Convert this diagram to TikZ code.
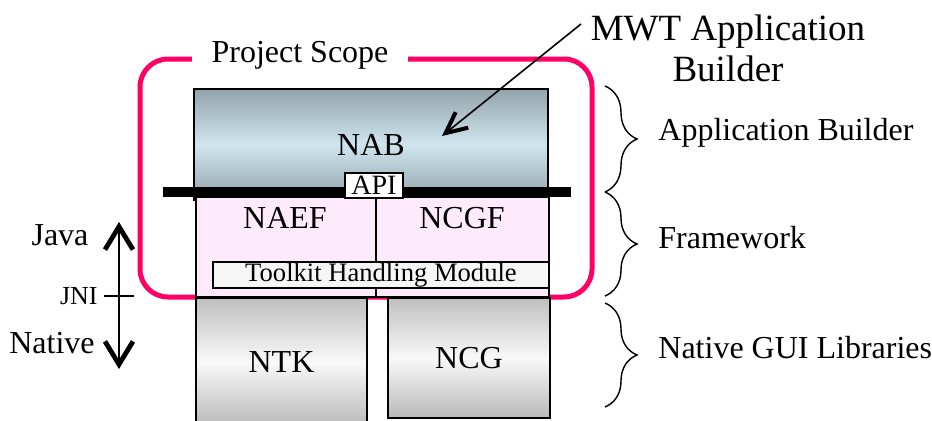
\documentclass[tikz,border=0pt]{standalone}
\usepackage{fontspec}
\setmainfont{Liberation Serif}
\usetikzlibrary{positioning, arrows.meta, decorations.pathreplacing}
\definecolor{scopepink}{RGB}{255,0,102}
\definecolor{nabdark}{RGB}{146,164,170}
\definecolor{nablight}{RGB}{208,229,238}
\definecolor{fwpink}{RGB}{253,235,251}

\begin{document}
\begin{tikzpicture}[
		x=0.5pt, y=-0.5pt,
		font=\fontsize{16}{19}\selectfont,
		layer/.style={draw, inner sep=0pt, line width=0.7pt},
		native/.style={layer, top color=gray!50, bottom color=gray!55, middle color=gray!5},
		tag/.style={anchor=west, inner sep=0pt},
		brc/.style={decorate, decoration={brace, amplitude=16pt}, line width=0.7pt},
		barb/.style={line width=1.4pt, {Straight Barb[length=11.5pt, width=14pt, line width=2.4pt]}-{Straight Barb[length=11.5pt, width=14pt, line width=2.4pt]}}
		]
		\clip (0,0) rectangle (932,420);
		
		% Project scope frame
		\draw[scopepink, line width=2.5pt, rounded corners=14pt] (140,59) rectangle (592,297);
		\node[fill=white, inner xsep=10pt, inner ysep=2pt] (scope) at (300,55) {Project Scope};
		
		% Application builder
		\node[layer, minimum width=177pt, minimum height=55.5pt, top color=nabdark, bottom color=nabdark, middle color=nablight] (nab) at (371,144.5) {NAB};
		
		% Framework
		\node[layer, fill=fwpink, minimum width=176.5pt, minimum height=50pt] (fw) at (372.5,247) {};
		\node (naef) at (285,218) {NAEF};
		\node (ncgf) at (462,218) {NCGF};
		\draw[line width=0.7pt] (376,197) -- (376,297);
		\node[layer, fill=gray!7, minimum width=168pt, minimum height=13pt, font=\fontsize{13.3}{15}\selectfont] (thm) at (381,275) {Toolkit Handling Module};
		
		% API bar
		\node[fill=black, inner sep=0pt, minimum width=204pt, minimum height=5pt] (bar) at (367,192) {};
		\node[layer, fill=white, minimum width=29pt, minimum height=12.5pt, font=\fontsize{14}{16}\selectfont] (api) at (374,185.5) {API};
		
		% Native libraries
		\node[native, minimum width=85.5pt, minimum height=64pt] (ntk) at (281.5,362) {NTK};
		\node[native, minimum width=81pt, minimum height=60pt] (ncg) at (469,358) {NCG};
		
		% MWT callout
		\node[align=center, font=\fontsize{18.5}{20.5}\selectfont] (mwt) at (728,48) {MWT Application\\Builder};
		\coordinate (mwtfrom) at (581,24);
		\coordinate (mwttip) at (442,136);
		\draw[line width=0.8pt, -{Straight Barb[length=10.5pt, width=10pt, line width=2pt]}] (mwtfrom) -- (mwttip);
		
		% Layer braces
		\draw[brc] (605,86) -- (605,192);
		\draw[brc] (605,192) -- (605,296);
		\draw[brc] (605,303) -- (605,407);
		\node[tag] (ab) at (658,133) {Application Builder};
		\node[tag] (fwl) at (658,238) {Framework};
		\node[tag] (ngl) at (658,348) {Native GUI Libraries};
		
		% Java / native boundary
		\node (java) at (60,235) {Java};
		\node[font=\fontsize{13}{15}\selectfont, anchor=east, inner sep=0pt] (jni) at (98,296) {JNI};
		\node (native) at (52,343) {Native};
		\coordinate (jtop) at (119,222);
		\coordinate (nbot) at (119,369);
		\draw[barb] (jtop) -- (nbot);
		\draw[line width=0.8pt] (104,296) -- (134,296);
		
	\end{tikzpicture}
\end{document}
